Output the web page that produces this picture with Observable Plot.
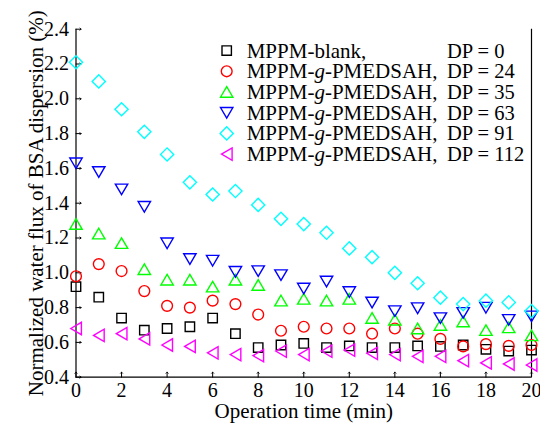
<!DOCTYPE html>
<html><head><meta charset="utf-8">
<script src="https://cdn.jsdelivr.net/npm/d3@7"></script>
<script src="https://cdn.jsdelivr.net/npm/@observablehq/plot@0.6"></script>
<style>body{margin:0;background:#fff}</style>
</head><body><div id="chart"></div>
<script>
// ---- data ----
const time = [0,1,2,3,4,5,6,7,8,9,10,11,12,13,14,15,16,17,18,19,20];
const dp0   = [0.92,0.86,0.74,0.67,0.68,0.69,0.74,0.65,0.57,0.585,0.594,0.57,0.58,0.57,0.57,0.58,0.577,0.585,0.56,0.55,0.556];
const dp24  = [0.98,1.05,1.01,0.895,0.81,0.80,0.84,0.82,0.76,0.667,0.69,0.68,0.68,0.65,0.68,0.65,0.62,0.577,0.59,0.58,0.585];
const dp35  = [1.28,1.225,1.17,1.02,0.96,0.96,0.92,0.96,0.93,0.84,0.85,0.84,0.85,0.74,0.73,0.68,0.70,0.72,0.67,0.686,0.64];
const dp63  = [1.63,1.58,1.48,1.38,1.17,1.08,1.07,1.006,1.01,0.987,0.91,0.95,0.89,0.83,0.78,0.797,0.74,0.77,0.80,0.73,0.75];
const dp91  = [2.21,2.10,1.94,1.81,1.68,1.52,1.45,1.47,1.39,1.31,1.28,1.23,1.14,1.09,1.00,0.94,0.857,0.82,0.84,0.83,0.78];
const dp112 = [0.68,0.64,0.65,0.62,0.585,0.577,0.54,0.53,0.524,0.55,0.53,0.55,0.556,0.537,0.53,0.52,0.52,0.495,0.482,0.476,0.47];
const seriesNames = ["MPPM-blank,","MPPM-g-PMEDSAH,","MPPM-g-PMEDSAH,","MPPM-g-PMEDSAH,","MPPM-g-PMEDSAH,","MPPM-g-PMEDSAH,"];
const seriesDP = ["DP = 0","DP = 24","DP = 35","DP = 63","DP = 91","DP = 112"];
const xTicks = [0,2,4,6,8,10,12,14,16,18,20];
const yTicks = [0.4,0.6,0.8,1.0,1.2,1.4,1.6,1.8,2.0,2.2,2.4];
const xLabel = "Operation time (min)";
const yLabel = "Normalized water flux of BSA dispersion (%)";

// ---- styles ----
const colors = ["#000000","#ff0000","#00ff00","#0000ff","#00ffff","#ff00ff"];
function poly(pts){return {draw(ctx){ctx.moveTo(pts[0][0],pts[0][1]);for(let i=1;i<pts.length;i++)ctx.lineTo(pts[i][0],pts[i][1]);ctx.closePath();}};}
const symSquare = {draw(ctx){ctx.rect(-4.7,-4.7,9.4,9.4);}};
const symCircle = {draw(ctx){ctx.moveTo(5.4,0);ctx.arc(0,0,5.4,0,2*Math.PI);}};
const symUp = poly([[0,-5.4],[6.2,5.2],[-6.2,5.2]]);
const symDown = poly([[0,5.4],[6.2,-5.2],[-6.2,-5.2]]);
const symDiamond = poly([[0,-6.6],[6.6,0],[0,6.6],[-6.6,0]]);
const symLeft = poly([[-5.2,0],[5.4,-6.2],[5.4,6.2]]);
const symbols = [symSquare,symCircle,symUp,symDown,symDiamond,symLeft];
const values = [dp0,dp24,dp35,dp63,dp91,dp112];

const rows = values.map(vs => time.map((t,i)=>({t, v: vs[i]})));

const marks = [];
// frame (left, bottom, right)
marks.push(Plot.ruleX([xTicks[0], xTicks[xTicks.length-1]], {stroke:"#000", strokeWidth:1.2}));
marks.push(Plot.ruleY([yTicks[0]], {stroke:"#000", strokeWidth:1.2}));
// inward ticks
marks.push(Plot.vector(xTicks, {x: d=>d, frameAnchor:"bottom", length:5, rotate:0, anchor:"start", stroke:"#000", strokeWidth:1}));
marks.push(Plot.vector(yTicks, {y: d=>d, frameAnchor:"left", length:5, rotate:90, anchor:"start", stroke:"#000", strokeWidth:1}));
// axes (tick labels only)
marks.push(Plot.axisX({ticks: xTicks, tickSize:0, tickPadding:6, tickFormat: d=>String(d), label: null, fontSize:20}));
marks.push(Plot.axisY({ticks: yTicks, tickSize:0, tickPadding:7, tickFormat: d3.format(".1f"), label: null, fontSize:20}));
// axis titles
marks.push(Plot.text([xLabel], {text: d=>d, frameAnchor:"bottom", dy:40.5, fontSize:21, textAnchor:"middle"}));
marks.push(Plot.text([yLabel], {text: d=>d, frameAnchor:"left", rotate:-90, dx:-39.5, fontSize:21, textAnchor:"middle"}));
// data
rows.forEach((r,i)=>{
  marks.push(Plot.dot(r, {x:"t", y:"v", symbol: symbols[i], stroke: colors[i], strokeWidth:1.4, fill:"none", r:5}));
});

const chart = Plot.plot({
  width:540, height:423,
  marginLeft:75.5, marginRight:9, marginTop:28.7, marginBottom:46.3,
  x:{domain:[xTicks[0], xTicks[xTicks.length-1]]},
  y:{domain:[yTicks[0], yTicks[yTicks.length-1]]},
  style:{fontFamily:"Liberation Serif", fontSize:"20px", background:"#fff", color:"#000"},
  marks
});
document.getElementById("chart").appendChild(chart);

// legend inside the plot
const svg = d3.select(chart);
const lg = svg.append("g").attr("font-family","Liberation Serif").attr("font-size",21).attr("fill","#000").attr("text-anchor","start");
seriesNames.forEach((name,i)=>{
  const cy = 50.6 + i*20.7;
  const p = d3.path(); symbols[i].draw(p);
  lg.append("path").attr("d", p.toString()).attr("transform",`translate(226.7,${cy})`)
    .attr("fill","none").attr("stroke",colors[i]).attr("stroke-width",1.4);
  const t = lg.append("text").attr("x",246.7).attr("y",cy+7);
  const parts = name.split("-g-");
  if (parts.length === 2) {
    t.append("tspan").text(parts[0] + "-");
    t.append("tspan").attr("font-style","italic").text("g");
    t.append("tspan").text("-" + parts[1]);
  } else {
    t.text(name);
  }
  lg.append("text").attr("x",447).attr("y",cy+7).attr("font-size",20.5).text(seriesDP[i]);
});
</script>
</body></html>
